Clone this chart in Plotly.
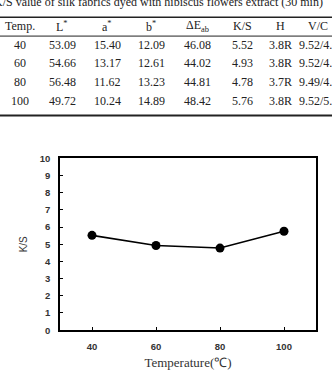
import plotly.graph_objects as go

# Table data
headers = ["Temp.", "L<sup>*</sup>", "a<sup>*</sup>", "b<sup>*</sup>", "ΔE<sub>ab</sub>", "K/S", "H", "V/C"]
temps = ["40", "60", "80", "100"]
L_vals = ["53.09", "54.66", "56.48", "49.72"]
a_vals = ["15.40", "13.17", "11.62", "10.24"]
b_vals = ["12.09", "12.61", "13.23", "14.89"]
dE_vals = ["46.08", "44.02", "44.81", "48.42"]
ks_text = ["5.52", "4.93", "4.78", "5.76"]
H_vals = ["3.8R", "3.8R", "3.7R", "3.8R"]
VC_vals = ["9.52/4.8", "9.52/4.8", "9.49/4.9", "9.52/5.1"]
caption = "K/S value of silk fabrics dyed with hibiscus flowers extract (30 min)"

# Chart data
temperature = [40, 60, 80, 100]
ks = [5.52, 4.93, 4.78, 5.76]

W, H = 332, 374

def px(x):
    return x / W

def py(y):
    return 1 - y / H

fig = go.Figure()
fig.add_trace(go.Scatter(
    x=temperature, y=ks, mode="lines+markers",
    line=dict(color="black", width=1.6),
    marker=dict(color="black", size=9),
    showlegend=False,
))

sans = "Liberation Sans"
serif = "Liberation Serif"

fig.update_layout(
    width=W, height=H,
    margin=dict(l=0, r=0, t=0, b=0),
    paper_bgcolor="white", plot_bgcolor="white",
    xaxis=dict(
        domain=[px(60), px(316)],
        range=[30, 110], tickvals=temperature,
        showline=True, linecolor="black", linewidth=1.5, mirror=True,
        ticks="inside", ticklen=3, tickcolor="black",
        showgrid=False, zeroline=False,
        tickfont=dict(family=sans, size=9.5, color="#333", weight="bold"),
        ticklabelstandoff=7,
        title=dict(text="Temperature(℃)", font=dict(family=serif, size=13, color="#333"), standoff=7),
    ),
    yaxis=dict(
        domain=[py(334), py(157)],
        range=[0, 10], dtick=1,
        showline=True, linecolor="black", linewidth=1.5, mirror=True,
        ticks="inside", ticklen=3, tickcolor="black",
        showgrid=False, zeroline=False,
        tickfont=dict(family=sans, size=9.5, color="#333", weight="bold"),
        ticklabelstandoff=6,
        title=dict(text="K/S", font=dict(family=sans, size=10, color="#333"), standoff=10),
    ),
)

# Table drawing
col_x = [20, 62, 107, 151, 197, 242, 280, 318]
row_y = [40, 59, 78, 98]
header_y = 21
fs = 12
tcolor = "#222"

for cx, h in zip(col_x, headers):
    fig.add_annotation(x=px(cx), y=py(header_y), xref="paper", yref="paper",
                       text=h, showarrow=False, xanchor="center", yanchor="middle",
                       font=dict(family=serif, size=fs, color=tcolor))

columns = [temps, L_vals, a_vals, b_vals, dE_vals, ks_text, H_vals, VC_vals]
for ci, col in enumerate(columns):
    for ri, val in enumerate(col):
        fig.add_annotation(x=px(col_x[ci]), y=py(row_y[ri]), xref="paper", yref="paper",
                           text=val, showarrow=False, xanchor="center", yanchor="middle",
                           font=dict(family=serif, size=fs, color=tcolor))

# caption (mostly clipped at top)
fig.add_annotation(x=px(-8), y=py(-4), xref="paper", yref="paper",
                   text=caption, showarrow=False, xanchor="left", yanchor="middle",
                   font=dict(family=serif, size=12, color=tcolor))

# table rules
for yy, lw in [(11.7, 1.5), (31, 1), (112.7, 2)]:
    fig.add_shape(type="line", xref="paper", yref="paper",
                  x0=0, x1=1, y0=py(yy), y1=py(yy),
                  line=dict(color="#222", width=lw))

fig.write_html("out.html")
